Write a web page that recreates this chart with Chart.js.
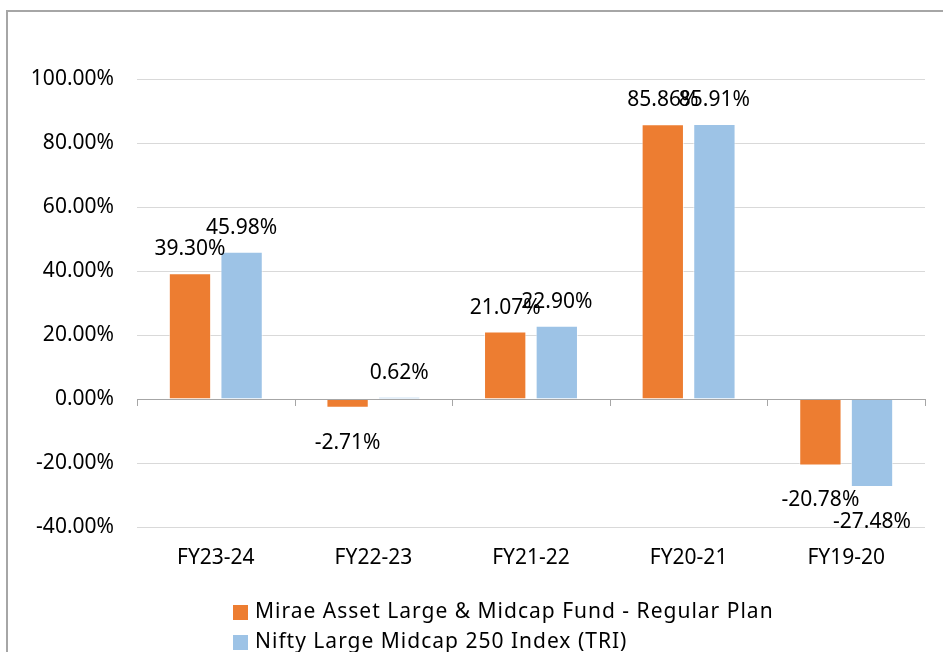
<!DOCTYPE html>
<html>
<head>
<meta charset="utf-8">
<script src="https://cdn.jsdelivr.net/npm/chart.js@4.4.1/dist/chart.umd.min.js"></script>
<style>
    html, body { margin: 0; padding: 0; background: #fff; }
    #frame {
        position: absolute; left: 6px; top: 10px; right: 0; bottom: 0;
        border-top: 2px solid #a6a6a6; border-left: 2px solid #a6a6a6;
    }
    #wrap { position: absolute; left: 0; top: 0; width: 943px; height: 652px; }
</style>
</head>
<body>
<div id="frame"></div>
<div id="wrap"><canvas id="returnsChart"></canvas></div>
<script>
const categories = ['FY23-24', 'FY22-23', 'FY21-22', 'FY20-21', 'FY19-20'];
const fundReturns = [39.30, -2.71, 21.07, 85.86, -20.78];
const indexReturns = [45.98, 0.62, 22.90, 85.91, -27.48];
const seriesNames = ['Mirae Asset Large & Midcap Fund - Regular Plan', 'Nifty Large Midcap 250 Index (TRI)'];
const seriesColors = ['#ed7d31', '#9dc3e6'];

const FONT = '"Noto Sans", "Open Sans", sans-serif';

function pct(v) {
    return v.toFixed(2) + '%';
}

// value labels above / below every bar
const valueLabels = {
    id: 'valueLabels',
    afterDatasetsDraw(chart) {
        const ctx = chart.ctx;
        ctx.save();
        ctx.font = '21px ' + FONT;
        ctx.fillStyle = '#000';
        ctx.textAlign = 'center';
        ctx.textBaseline = 'alphabetic';
        chart.data.datasets.forEach((ds, i) => {
            chart.getDatasetMeta(i).data.forEach((bar, j) => {
                const v = ds.data[j];
                const y = v >= 0 ? bar.y - 18 : bar.y + 41;
                ctx.fillText(pct(v), bar.x, y);
            });
        });
        ctx.restore();
    }
};

// horizontal axis line at zero with tick marks between categories
const zeroAxis = {
    id: 'zeroAxis',
    afterDatasetsDraw(chart) {
        const ctx = chart.ctx;
        const x = chart.scales.x;
        const y0 = chart.scales.y.getPixelForValue(0);
        const step = (x.right - x.left) / categories.length;
        ctx.save();
        ctx.strokeStyle = '#a6a6a6';
        ctx.lineWidth = 1;
        ctx.beginPath();
        ctx.moveTo(x.left, y0 + 0.5);
        ctx.lineTo(x.right, y0 + 0.5);
        for (let i = 0; i <= categories.length; i++) {
            const px = Math.round(x.left + i * step) + 0.5;
            ctx.moveTo(px, y0);
            ctx.lineTo(px, y0 + 7);
        }
        ctx.stroke();
        ctx.restore();
    }
};

// stacked legend, left aligned under the plot
const stackedLegend = {
    id: 'stackedLegend',
    afterDraw(chart) {
        const ctx = chart.ctx;
        ctx.save();
        ctx.font = '21px ' + FONT;
        ctx.letterSpacing = '1px';
        ctx.textBaseline = 'middle';
        ctx.textAlign = 'left';
        chart.data.datasets.forEach((ds, i) => {
            const cy = 612 + i * 30;
            ctx.fillStyle = ds.backgroundColor;
            ctx.fillRect(233, cy - 7, 15, 15);
            ctx.fillStyle = '#000';
            ctx.fillText(ds.label, 255, cy);
        });
        ctx.restore();
    }
};

document.addEventListener('DOMContentLoaded', function() {
    const ctx = document.getElementById('returnsChart').getContext('2d');
    new Chart(ctx, {
        type: 'bar',
        data: {
            labels: categories,
            datasets: [{
                label: seriesNames[0],
                data: fundReturns,
                backgroundColor: seriesColors[0],
                borderColor: 'rgba(255, 255, 255, 0.6)',
                borderWidth: 1
            }, {
                label: seriesNames[1],
                data: indexReturns,
                backgroundColor: seriesColors[1],
                borderColor: 'rgba(255, 255, 255, 0.6)',
                borderWidth: 1
            }]
        },
        options: {
            responsive: true,
            maintainAspectRatio: false,
            animation: false,
            categoryPercentage: 0.655,
            barPercentage: 0.82,
            layout: {
                padding: { top: 79, right: 18, bottom: 70, left: 0 }
            },
            scales: {
                x: {
                    grid: { display: false, drawTicks: false },
                    border: { display: false },
                    ticks: {
                        color: '#000',
                        font: { family: FONT, size: 21 },
                        padding: 18
                    },
                    afterFit(scale) { scale.height = 55; }
                },
                y: {
                    min: -40,
                    max: 100,
                    grid: { color: '#d9d9d9', drawTicks: false },
                    border: { display: false },
                    ticks: {
                        stepSize: 20,
                        color: '#000',
                        font: { family: FONT, size: 21 },
                        padding: 23,
                        callback: v => pct(v)
                    },
                    afterFit(scale) { scale.width = 137; }
                }
            },
            plugins: {
                legend: { display: false },
                tooltip: { enabled: false },
                title: { display: false }
            }
        },
        plugins: [valueLabels, zeroAxis, stackedLegend]
    });
});
</script>
</body>
</html>
